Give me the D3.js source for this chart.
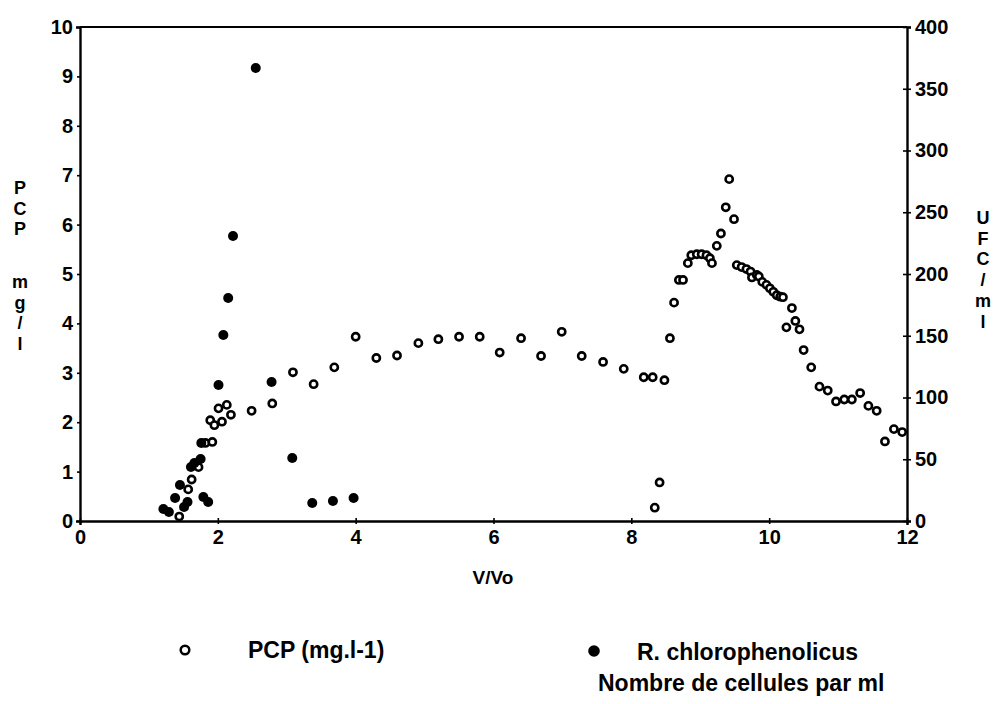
<!DOCTYPE html>
<html><head><meta charset="utf-8">
<script src="https://cdn.jsdelivr.net/npm/d3@7/dist/d3.min.js"></script>
<style>
body{margin:0;background:#fff;}
svg text{font-family:"Liberation Sans",Arial,Helvetica,sans-serif;font-weight:bold;fill:#000;}
</style></head>
<body>
<svg id="chart" width="995" height="704"></svg>
<script>
// PCP (mg/l) — open circles, left axis
const pcpX = [1.44,1.57,1.62,1.72,1.82,1.92,1.89,1.95,2.01,2.06,2.13,2.19,2.49,2.79,3.09,3.39,3.69,4.00,4.30,4.60,4.91,5.20,5.50,5.80,6.09,6.40,6.69,6.99,7.28,7.59,7.89,8.18,8.31,8.34,8.41,8.48,8.56,8.62,8.69,8.75,8.82,8.87,8.95,9.02,9.09,9.14,9.17,9.24,9.30,9.37,9.42,9.49,9.53,9.60,9.67,9.73,9.75,9.82,9.85,9.90,9.96,10.01,10.06,10.11,10.16,10.20,10.33,10.25,10.38,10.44,10.50,10.61,10.73,10.85,10.97,11.09,11.20,11.32,11.44,11.56,11.68,11.81,11.93];
const pcpY = [0.09,0.64,0.84,1.09,1.58,1.60,2.04,1.94,2.28,2.01,2.35,2.15,2.23,2.38,3.01,2.77,3.11,3.73,3.30,3.35,3.60,3.68,3.73,3.73,3.41,3.70,3.34,3.83,3.34,3.22,3.08,2.91,2.91,0.27,0.78,2.85,3.70,4.42,4.88,4.88,5.22,5.38,5.40,5.40,5.38,5.32,5.22,5.57,5.82,6.35,6.92,6.11,5.18,5.14,5.10,5.05,4.93,4.98,4.95,4.84,4.78,4.71,4.64,4.57,4.54,4.53,4.31,3.92,4.05,3.88,3.46,3.11,2.72,2.64,2.42,2.46,2.46,2.59,2.33,2.23,1.61,1.86,1.80];
// R. chlorophenolicus (UFC/ml) — filled circles, right axis
const cellX = [1.21,1.29,1.38,1.45,1.51,1.56,1.61,1.66,1.75,1.79,1.86,1.76,2.01,2.08,2.15,2.22,2.55,2.78,3.08,3.37,3.67,3.97];
const cellY = [9.7,7.3,18.6,29.1,11.3,15.4,43.7,47,50.2,19.4,15.4,63.2,110.1,150.6,180.6,230.8,366.8,112.5,51,14.6,16.2,18.6];

const xTicks = [0,2,4,6,8,10,12];
const yLeftTicks = [0,1,2,3,4,5,6,7,8,9,10];
const yRightTicks = [0,50,100,150,200,250,300,350,400];
const xTitle = "V/Vo";
const leftTitle = ["P","C","P","","m","g","/","l"];
const rightTitle = ["U","F","C","/","m","l"];
const legendPcp = "PCP (mg.l-1)";
const legendCell = "R. chlorophenolicus";
const legendCell2 = "Nombre de cellules par ml";

const svg = d3.select("#chart");
const L = 80, R = 907, T = 27, B = 521;
const x = d3.scaleLinear().domain([0,12]).range([L,R]);
const yL = d3.scaleLinear().domain([0,10]).range([B,T]);
const yR = d3.scaleLinear().domain([0,400]).range([B,T]);

svg.append("line").attr("x1",L).attr("x2",R).attr("y1",T).attr("y2",T).attr("stroke","#000").attr("stroke-width",1.8);

function styleAxis(sel, fontSize){
  sel.select(".domain").attr("stroke","#000").attr("stroke-width",2.4);
  sel.selectAll(".tick line").attr("stroke","#000").attr("stroke-width",1.6);
  sel.selectAll(".tick text").style("font-size",fontSize+"px").style("font-family","'Liberation Sans',Arial,sans-serif").style("font-weight","bold").attr("fill","#000");
}

const ax = svg.append("g").attr("transform",`translate(0,${B})`)
  .call(d3.axisBottom(x).tickValues(xTicks).tickSizeOuter(0).tickSize(4).tickPadding(5).tickFormat(d3.format("d")));
ax.selectAll(".tick line").attr("y1",-3).attr("y2",3);
styleAxis(ax,20);

const ayL = svg.append("g").attr("transform",`translate(${L},0)`)
  .call(d3.axisLeft(yL).tickValues(yLeftTicks).tickSizeOuter(0).tickSize(4).tickPadding(3).tickFormat(d3.format("d")));
ayL.selectAll(".tick line").attr("x1",-3).attr("x2",1);
styleAxis(ayL,20);

const ayR = svg.append("g").attr("transform",`translate(${R},0)`)
  .call(d3.axisRight(yR).tickValues(yRightTicks).tickSizeOuter(0).tickSize(4).tickPadding(4).tickFormat(d3.format("d")));
ayR.selectAll(".tick line").attr("x1",-4).attr("x2",4);
styleAxis(ayR,20);

const pcp = pcpX.map((v,i)=>({x:v,y:pcpY[i]}));
svg.append("g").selectAll("circle").data(pcp).join("circle")
  .attr("cx",d=>x(d.x)).attr("cy",d=>yL(d.y)).attr("r",3.6)
  .attr("fill","#fff").attr("stroke","#000").attr("stroke-width",2.6);

const cells = cellX.map((v,i)=>({x:v,y:cellY[i]}));
svg.append("g").selectAll("circle").data(cells).join("circle")
  .attr("cx",d=>x(d.x)).attr("cy",d=>yR(d.y)).attr("r",5)
  .attr("fill","#000");

svg.append("text").attr("x",493).attr("y",584).attr("text-anchor","middle").style("font-size","19px").text(xTitle);
leftTitle.forEach((c,i)=>{
  const yy = 194 + i*20.5 + (i>=3?12:0);
  if(c) svg.append("text").attr("x",20).attr("y",yy).attr("text-anchor","middle").style("font-size","18px").text(c);
});
rightTitle.forEach((c,i)=>{
  svg.append("text").attr("x",983).attr("y",224+i*20.7).attr("text-anchor","middle").style("font-size","18px").text(c);
});

svg.append("circle").attr("cx",185).attr("cy",650).attr("r",4.3).attr("fill","#fff").attr("stroke","#000").attr("stroke-width",2.5);
svg.append("text").attr("x",248).attr("y",658).style("font-size","23px").text(legendPcp);
svg.append("circle").attr("cx",594).attr("cy",651).attr("r",5.8).attr("fill","#000");
svg.append("text").attr("x",637).attr("y",660).style("font-size","23px").text(legendCell);
svg.append("text").attr("x",598).attr("y",691).style("font-size","23px").text(legendCell2);
</script>
</body></html>
